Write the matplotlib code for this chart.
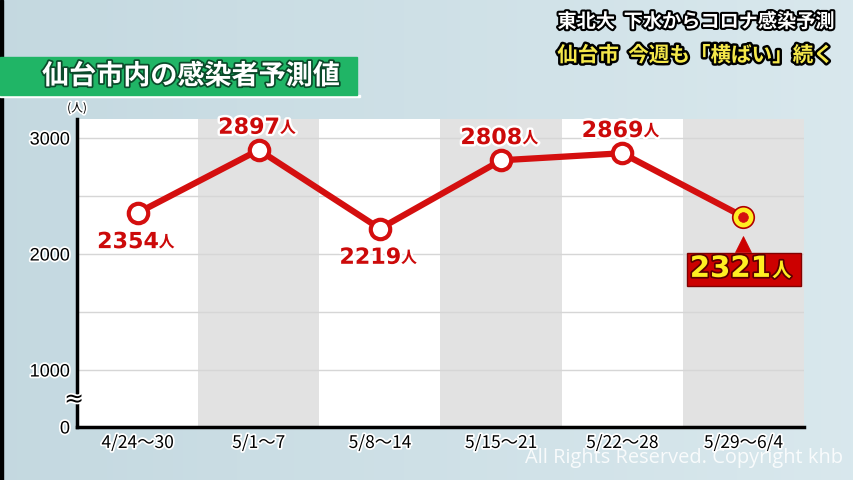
import matplotlib
matplotlib.use("Agg")
import matplotlib.pyplot as plt
import matplotlib.patheffects as pe
import matplotlib.transforms as mtrans
import numpy as np

plt.rcParams['font.family'] = ['Noto Sans CJK JP', 'DejaVu Sans']

# ---- data ----
categories = ["4/24～30", "5/1～7", "5/8～14", "5/15～21", "5/22～28", "5/29～6/4"]
values = [2354, 2897, 2219, 2808, 2869, 2321]
label_above = [False, True, False, True, True, None]
ytick_values = [1000, 2000, 3000]
ytick_labels = ["1000", "2000", "3000"]
zero_label = "0"
title = "仙台市内の感染者予測値"
headline1 = "東北大  下水からコロナ感染予測"
headline2 = "仙台市  今週も「横ばい」続く"
unit = "(人)"
watermark = "All Rights Reserved. Copyright khb"

W, H = 854, 480
fig = plt.figure(figsize=(W / 100, H / 100), dpi=100)

# background gradient
bg = fig.add_axes([0, 0, 1, 1], zorder=-10)
grad = np.linspace(0, 1, 256)
c0 = np.array([0.77, 0.85, 0.88])
c1 = np.array([0.85, 0.91, 0.93])
img = c0[None, :] * (1 - grad[:, None]) + c1[None, :] * grad[:, None]
bg.imshow(img[None, :, :], aspect='auto', extent=[0, 1, 0, 1])
bg.set_xlim(0, 1); bg.set_ylim(0, 1)
bg.axis('off')
bg.add_patch(plt.Rectangle((0, 0), 0.003, 1, color='black'))

# green banner
bg.add_patch(plt.Rectangle((0, 1 - 95 / H), 357 / W, 38 / H, color='#20b566', zorder=2))
bg.add_patch(plt.Rectangle((0, 1 - 97 / H), 360 / W, 2 / H, color='white', zorder=1))
bg.text(42 / W, 1 - 76 / H, title, color='white', fontsize=19.5, fontweight='bold',
        va='center', ha='left', zorder=3,
        path_effects=[pe.withStroke(linewidth=2.5, foreground='#0a4a2a')])

# headlines
bg.text(834 / W, 1 - 22 / H, headline1, color='white', fontsize=13.8, fontweight='bold',
        va='center', ha='right',
        path_effects=[pe.withStroke(linewidth=3, foreground='black')])
bg.text(833 / W, 1 - 55 / H, headline2, color='#f5e84a', fontsize=14.8, fontweight='bold',
        va='center', ha='right',
        path_effects=[pe.withStroke(linewidth=3.5, foreground='black')])

bg.text(843 / W, 1 - 458 / H, watermark, color='white', alpha=0.85, fontsize=14.4,
        family=['Open Sans', 'DejaVu Sans'], va='center', ha='right')

# main axes
left, right, bottom, top = 77 / W, 804 / W, 1 - 427 / H, 1 - 119 / H
ax = fig.add_axes([left, bottom, right - left, top - bottom])
ax.set_facecolor('white')
ymin, ymax = 509, 3164
ax.set_xlim(-0.5, len(categories) - 0.5)
ax.set_ylim(ymin, ymax)

x = np.arange(len(categories))
for i in x:
    if i % 2 == 1:
        ax.axvspan(i - 0.5, i + 0.5, color='#e2e2e2', zorder=0, lw=0)
for g in [1000, 1500, 2000, 2500, 3000]:
    ax.axhline(g, color='#d6d6d6', lw=1, zorder=1)

red = '#d40f0f'
ax.plot(x, values, color=red, lw=4.5, zorder=3, solid_capstyle='round')
ax.plot(x[:-1], values[:-1], 'o', ms=14, mfc='white', mec=red, mew=3.0, zorder=4)
ax.plot(x[-1:], values[-1:], 'o', ms=15.5, mfc='#ffee22', mec='#b00000', mew=1.2, zorder=4)
ax.plot(x[-1:], values[-1:], 'o', ms=7, mfc='#d40f0f', mec='#d40f0f', mew=0.5, zorder=5)

outline = [pe.withStroke(linewidth=3.5, foreground='white')]
for i, (v, above) in enumerate(zip(values, label_above)):
    if above is None:
        continue
    dy = 16 if above else -21
    t = ax.annotate(str(v), (x[i], v), xytext=(-7, dy), textcoords='offset points',
                    ha='center', va='center', fontsize=16, fontweight='bold', color='#cc0a0a',
                    family=['DejaVu Sans'], path_effects=outline, zorder=6)
    ax.annotate('人', xy=(1.0, 0.1), xycoords=t, xytext=(0, 0), textcoords='offset points',
                ha='left', va='bottom', fontsize=11.5, fontweight='bold', color='#cc0a0a',
                path_effects=outline, zorder=6)

# last value: red box label anchored at the data point
i = len(values) - 1
v = values[i]
anchor = fig.dpi_scale_trans + mtrans.ScaledTranslation(x[i], v, ax.transData)
ax.add_patch(plt.Rectangle((-0.56, -0.69), 1.14, 0.33, transform=anchor, fc='#cc0000',
                           ec='#800000', lw=1, zorder=6, clip_on=False))
tri = mtrans.offset_copy(ax.transData, fig=fig, x=0, y=-19.5, units='points')
ax.plot([x[i]], [v], marker='^', ms=11, color='#cc0000', mec='#cc0000', mew=0.5,
        transform=tri, zorder=6, clip_on=False)
t = ax.annotate(str(v), (x[i], v), xytext=(-9.5, -37.5), textcoords='offset points',
                ha='center', va='center', fontsize=21, fontweight='bold', color='#ffee22',
                family=['DejaVu Sans'],
                path_effects=[pe.withStroke(linewidth=2.5, foreground='#5a0000')], zorder=7)
ax.annotate('人', xy=(1.0, 0.08), xycoords=t, xytext=(1, 0), textcoords='offset points',
            ha='left', va='bottom', fontsize=14, fontweight='bold', color='#ffee22',
            path_effects=[pe.withStroke(linewidth=2.5, foreground='#5a0000')], zorder=7)

# axes styling
for s in ['top', 'right']:
    ax.spines[s].set_visible(False)
for s in ['left', 'bottom']:
    ax.spines[s].set_linewidth(2.5)
    ax.spines[s].set_color('black')
    ax.spines[s].set_zorder(8)
ax.set_yticks([ymin] + ytick_values)
ax.set_yticklabels([zero_label] + ytick_labels)
ax.set_xticks(x)
ax.set_xticklabels(categories)
ax.tick_params(length=0, pad=5)
tick_outline = [pe.withStroke(linewidth=2.5, foreground='white')]
for lab in ax.get_yticklabels():
    lab.set_fontsize(13)
    lab.set_family(['Liberation Sans Narrow', 'Liberation Sans', 'DejaVu Sans'])
    lab.set_path_effects(tick_outline)
for lab in ax.get_xticklabels():
    lab.set_fontsize(12.5)
    lab.set_family(['Liberation Sans Narrow', 'Noto Sans CJK JP', 'DejaVu Sans'])
    lab.set_path_effects(tick_outline)

ax.text(-0.004, 750, '≈', transform=mtrans.blended_transform_factory(ax.transAxes, ax.transData),
        ha='center', va='center', fontsize=17, color='black', zorder=9, clip_on=False,
        family=['DejaVu Sans'], path_effects=tick_outline)
ax.text(0.0, 1.035, unit, transform=ax.transAxes, ha='center', va='center', fontsize=8.5,
        color='black', path_effects=tick_outline)

fig.savefig('out.png', dpi=100)
